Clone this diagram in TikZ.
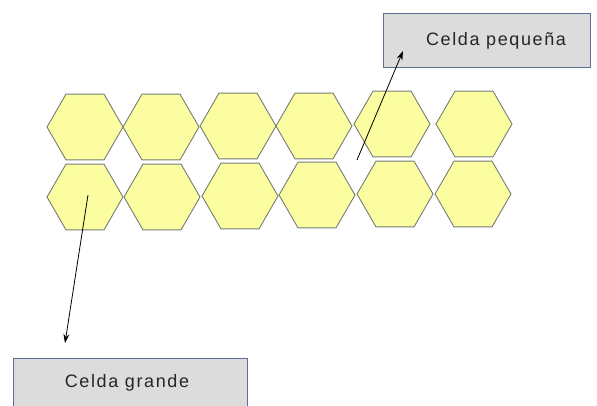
\documentclass[tikz,border=0pt]{standalone}
\usepackage{fontspec}
\setmainfont{Liberation Sans}
\newfontfamily\boxfont[LetterSpace=9]{Liberation Sans}
\usetikzlibrary{shapes.geometric,arrows.meta}
\definecolor{hexfill}{RGB}{252,252,160}
\definecolor{hexline}{RGB}{115,125,120}
\definecolor{boxfill}{RGB}{220,220,220}
\definecolor{boxline}{RGB}{95,110,150}
\tikzset{
  hexcell/.style={regular polygon, regular polygon sides=6, minimum size=76pt, inner sep=0pt, outer sep=0pt, fill=hexfill, draw=hexline, line width=0.9pt},
  labelbox/.style={rectangle, fill=boxfill, draw=boxline, line width=0.9pt, inner sep=0pt},
  boxtext/.style={anchor=base, inner sep=0pt, text=black!85, font=\boxfont\fontsize{18}{20}\selectfont},
  pointer/.style={draw=black, line width=0.8pt, -{Stealth[length=9pt,width=6pt]}}
}
\begin{document}
\begin{tikzpicture}[x=1pt,y=-1pt]
\useasboundingbox (0,0) rectangle (597,405);
\clip (0,0) rectangle (597,405);
% top row
\node[hexcell] (t1) at (85,127) {};
\node[hexcell] (t2) at (161,127) {};
\node[hexcell] (t3) at (238,126) {};
\node[hexcell] (t4) at (314,126) {};
\node[hexcell] (t5) at (392,124) {};
\node[hexcell] (t6) at (474,124) {};
% bottom row
\node[hexcell] (b1) at (85,197) {};
\node[hexcell] (b2) at (162,197) {};
\node[hexcell] (b3) at (240,196) {};
\node[hexcell] (b4) at (317,195) {};
\node[hexcell] (b5) at (395,194) {};
\node[hexcell] (b6) at (473,194) {};
% label boxes
\node[labelbox, minimum width=207pt, minimum height=54pt] (small) at (487,40) {};
\node[boxtext] (smalltext) at (496,45.5) {Celda pequeña};
\node[labelbox, minimum width=234pt, minimum height=60pt] (large) at (130,388) {};
\node[boxtext] (largetext) at (127,387) {Celda grande};
% pointers
\coordinate (p1s) at (357,160);
\coordinate (p1e) at (403,51);
\coordinate (p2s) at (88,195);
\coordinate (p2e) at (65,343);
\draw[pointer] (p1s) -- (p1e);
\draw[pointer] (p2s) -- (p2e);
\end{tikzpicture}
\end{document}
